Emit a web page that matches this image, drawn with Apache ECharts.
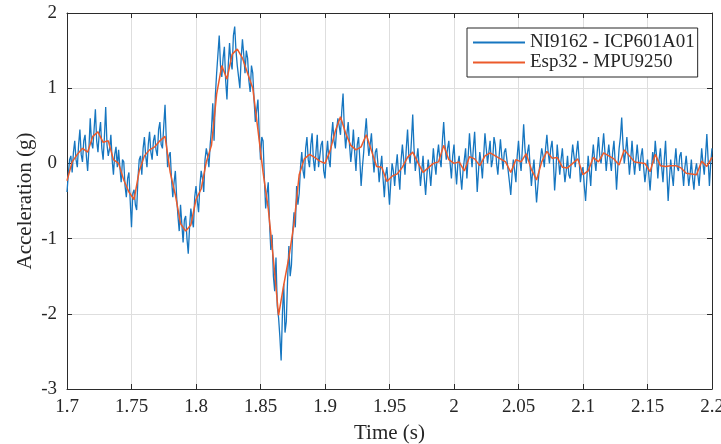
<!DOCTYPE html>
<html>
<head>
<meta charset="utf-8">
<script src="https://cdn.jsdelivr.net/npm/echarts@6/dist/echarts.min.js"></script>
<style>
html,body{margin:0;padding:0;background:#fff;}
#c{width:721px;height:444px;}
</style>
</head>
<body>
<div id="c"></div>
<script>
// ---- data ----
const seriesNames = ['NI9162 - ICP601A01', 'Esp32 - MPU9250'];
const niStart = 1.7, niStep = 0.001;      // NI9162 sample timing (s)
const espStart = 1.7, espStep = 0.004;    // Esp32 sample timing (s)

const niValues = [
  -0.38, -0.15, 0.05, 0.10, -0.12, 0.15, 0.30, 0.05, -0.05, 0.25, 0.45, 0.12, 0.02, 0.30, 0.38, 0.10, -0.10, 0.20, 0.60, 0.28,
  0.20, 0.45, 0.72, 0.30, 0.15, 0.40, 0.55, 0.20, 0.05, 0.35, 0.75, 0.25, 0.10, 0.20, 0.38, 0.05, -0.15, 0.12, 0.22, -0.05,
  0.18, -0.05, -0.25, 0.05, 0.02, -0.30, -0.45, -0.20, -0.12, -0.50, -0.85, -0.40, -0.35, -0.55, -0.62, -0.20, 0.05, 0.10, -0.15, 0.20,
  0.35, 0.10, -0.05, 0.25, 0.42, 0.15, 0.05, 0.30, 0.38, 0.18, 0.10, 0.45, 0.55, 0.25, 0.20, 0.50, 0.78, 0.30, -0.05, 0.10,
  0.15, -0.20, -0.45, -0.25, -0.10, -0.45, -0.70, -0.90, -0.55, -0.80, -1.05, -0.75, -0.70, -1.00, -1.20, -0.85, -0.60, -0.75, -0.85, -0.45,
  -0.30, -0.50, -0.65, -0.30, -0.10, -0.20, -0.38, 0.05, 0.20, 0.10, -0.05, 0.25, 0.45, 0.80, 0.30, 0.90, 1.20, 1.45, 1.70, 1.30,
  1.15, 1.40, 1.55, 1.10, 0.85, 1.30, 1.60, 1.35, 1.25, 1.70, 1.82, 1.50, 1.30, 1.15, 1.00, 1.40, 1.65, 1.45, 1.20, 1.50,
  1.40, 1.10, 0.95, 1.30, 1.20, 0.85, 0.55, 0.70, 0.85, 0.40, 0.05, 0.35, 0.30, -0.20, -0.60, -0.40, -0.25, -0.80, -1.15, -0.95,
  -1.50, -1.70, -1.25, -1.90, -2.05, -2.30, -2.62, -2.00, -1.60, -2.25, -2.10, -1.55, -1.10, -1.50, -1.35, -0.90, -0.65, -0.85, -0.30, -0.55,
  -0.40, -0.05, 0.15, -0.10, -0.20, 0.20, 0.35, 0.05, -0.05, 0.25, 0.40, 0.05, -0.10, 0.15, 0.38, -0.05, 0.10, 0.25, 0.30, -0.10,
  -0.20, 0.10, 0.30, 0.05, -0.05, 0.35, 0.55, 0.30, 0.20, 0.45, 0.60, 0.50, 0.38, 0.70, 0.93, 0.45, 0.20, 0.40, 0.55, 0.25,
  0.02, 0.20, 0.45, 0.15, -0.10, 0.25, 0.35, 0.05, -0.30, -0.05, 0.15, 0.40, 0.60, 0.30, 0.10, 0.25, 0.40, 0.10, -0.12, 0.15,
  0.20, 0.00, -0.25, -0.05, 0.10, -0.20, -0.45, -0.15, -0.05, -0.30, -0.55, -0.25, 0.00, -0.10, -0.30, -0.05, 0.12, -0.15, -0.35, 0.05,
  0.25, 0.05, -0.15, 0.20, 0.45, 0.10, 0.00, 0.30, 0.65, 0.20, -0.10, 0.05, 0.20, -0.05, -0.30, -0.10, 0.10, -0.20, -0.42, -0.15,
  0.05, -0.10, -0.30, -0.05, 0.20, 0.00, -0.15, 0.10, 0.25, 0.05, -0.05, 0.30, 0.55, 0.25, 0.05, 0.20, 0.30, 0.00, -0.20, 0.10,
  0.25, -0.05, -0.28, 0.00, 0.10, -0.15, -0.35, -0.10, 0.05, 0.20, -0.20, 0.10, 0.40, 0.15, -0.05, 0.20, 0.42, 0.05, -0.38, -0.10,
  0.15, 0.00, -0.20, 0.10, 0.40, 0.20, 0.00, 0.15, 0.30, -0.05, 0.05, 0.35, 0.25, 0.00, -0.15, 0.10, 0.32, 0.10, -0.08, 0.15,
  0.20, 0.05, -0.10, -0.25, -0.42, -0.15, 0.05, -0.10, -0.25, 0.10, 0.30, 0.05, -0.10, 0.20, 0.52, 0.20, 0.00, 0.15, 0.25, -0.05,
  -0.30, -0.10, 0.05, -0.25, -0.52, -0.30, -0.10, 0.05, 0.20, 0.10, -0.05, 0.20, 0.38, 0.15, 0.00, 0.20, 0.30, 0.05, -0.36, -0.10,
  0.25, 0.05, -0.15, 0.05, 0.20, -0.05, -0.25, -0.10, 0.10, -0.15, -0.20, 0.05, 0.25, 0.10, -0.05, 0.15, 0.30, 0.05, -0.25, -0.10,
  -0.05, -0.30, -0.50, -0.20, 0.10, -0.10, -0.30, 0.05, 0.25, 0.05, -0.10, 0.15, 0.35, 0.10, 0.00, 0.20, 0.40, 0.15, -0.10, 0.10,
  0.25, 0.05, -0.10, 0.15, 0.30, 0.00, -0.35, -0.05, 0.20, 0.35, 0.61, 0.25, 0.00, 0.15, 0.35, 0.10, -0.15, 0.05, 0.30, 0.05,
  -0.15, 0.05, 0.25, 0.05, -0.10, 0.10, 0.20, -0.05, -0.25, -0.10, 0.05, -0.15, -0.36, -0.10, 0.15, 0.00, 0.30, 0.10, -0.20, 0.05,
  0.20, -0.05, -0.25, 0.05, 0.30, -0.10, -0.50, -0.20, 0.05, -0.15, -0.30, 0.00, 0.20, -0.05, -0.10, 0.10, 0.15, -0.10, -0.30, -0.05,
  0.10, -0.10, -0.30, -0.15, 0.05, -0.20, -0.35, -0.10, 0.00, -0.15, -0.30, -0.05, 0.20, 0.00, -0.15, 0.10, 0.39, 0.05, -0.30, 0.00,
  0.20
];

const espValues = [
  -0.23, 0.02, 0.12, 0.20, 0.15, 0.36, 0.42, 0.28, 0.30, 0.05,
  0.00, -0.22, -0.38, -0.48, -0.10, 0.10, 0.18, 0.22, 0.30, 0.36,
  -0.12, -0.42, -0.80, -0.90, -0.82, -0.48, -0.34, 0.02, 0.24, 0.92,
  1.30, 1.12, 1.45, 1.52, 1.40, 1.20, 1.00, 0.45, -0.12, -0.60,
  -1.28, -2.02, -1.62, -1.25, -0.80, -0.15, 0.06, 0.12, 0.08, 0.03,
  0.00, 0.17, 0.43, 0.62, 0.40, 0.24, 0.18, 0.22, 0.38, 0.17,
  -0.04, -0.05, -0.24, -0.17, -0.14, -0.05, 0.08, 0.15, 0.01, -0.12,
  -0.06, 0.00, 0.02, 0.24, 0.05, 0.00, 0.02, -0.10, 0.09, 0.06,
  -0.03, 0.10, 0.14, 0.10, 0.06, 0.02, -0.12, 0.05, 0.02, 0.13,
  -0.08, -0.22, 0.02, 0.16, 0.07, 0.08, -0.05, -0.06, 0.00, 0.06,
  -0.15, -0.10, 0.08, 0.02, 0.14, 0.10, 0.06, -0.02, 0.18, 0.10,
  0.02, 0.01, 0.00, -0.11, 0.12, -0.03, -0.04, -0.03, -0.03, -0.06,
  -0.13, -0.14, -0.15, 0.03, -0.04, 0.08
];

const xTickValues = [1.7, 1.75, 1.8, 1.85, 1.9, 1.95, 2.0, 2.05, 2.1, 2.15, 2.2];
const xTickLabels = ['1.7', '1.75', '1.8', '1.85', '1.9', '1.95', '2', '2.05', '2.1', '2.15', '2.2'];
const yTickValues = [-3, -2, -1, 0, 1, 2];
const yTickLabels = ['-3', '-2', '-1', '0', '1', '2'];

// ---- build ----
const niData = niValues.map((v, i) => [niStart + i * niStep, v]);
const espData = espValues.map((v, i) => [espStart + i * espStep, v]);

function lookup(vals, labels, v) {
  for (let i = 0; i < vals.length; i++) if (Math.abs(vals[i] - v) < 1e-6) return labels[i];
  return '';
}

const FONT = 'Liberation Serif';
const TXT = '#262626';
const AX = '#2b2b2b';

const chart = echarts.init(document.getElementById('c'), null, {renderer: 'canvas'});
chart.setOption({
  animation: false,
  backgroundColor: '#fff',
  grid: {left: 67, right: 9, top: 13, bottom: 55, containLabel: false, outerBoundsMode: 'none'},
  legend: {
    show: true,
    orient: 'vertical',
    left: 467, top: 28,
    padding: [5, 3, 5, 6],
    itemGap: 1,
    itemWidth: 52,
    itemHeight: 2,
    icon: 'rect',
    borderColor: '#262626',
    borderWidth: 1,
    borderRadius: 0,
    backgroundColor: '#fff',
    textStyle: {fontFamily: FONT, fontSize: 19, color: TXT},
    data: seriesNames
  },
  xAxis: [{
    type: 'value', min: 1.7, max: 2.2, interval: 0.05,
    name: 'Time (s)', nameLocation: 'middle', nameGap: 34, nameMoveOverlap: false,
    nameTextStyle: {fontFamily: FONT, fontSize: 21, color: TXT},
    axisLine: {show: true, onZero: false, lineStyle: {color: AX, width: 1}},
    axisTick: {show: true, inside: true, length: 5, lineStyle: {color: AX}},
    axisLabel: {fontFamily: FONT, fontSize: 19, color: TXT, margin: 9,
      formatter: v => lookup(xTickValues, xTickLabels, v)},
    splitLine: {show: true, lineStyle: {color: '#dedede', width: 1}}
  }, {
    type: 'value', position: 'top', min: 1.7, max: 2.2, interval: 0.05,
    axisLine: {show: true, onZero: false, lineStyle: {color: AX, width: 1}},
    axisTick: {show: true, inside: true, length: 5, lineStyle: {color: AX}},
    axisLabel: {show: false}, splitLine: {show: false}
  }],
  yAxis: [{
    type: 'value', min: -3, max: 2, interval: 1,
    name: 'Acceleration (g)', nameLocation: 'middle', nameGap: 31, nameMoveOverlap: false,
    nameTextStyle: {fontFamily: FONT, fontSize: 21, color: TXT},
    axisLine: {show: true, onZero: false, lineStyle: {color: AX, width: 1}},
    axisTick: {show: true, inside: true, length: 5, lineStyle: {color: AX}},
    axisLabel: {fontFamily: FONT, fontSize: 19, color: TXT, margin: 10,
      formatter: v => lookup(yTickValues, yTickLabels, v)},
    splitLine: {show: true, lineStyle: {color: '#dedede', width: 1}}
  }, {
    type: 'value', position: 'right', min: -3, max: 2, interval: 1,
    axisLine: {show: true, onZero: false, lineStyle: {color: AX, width: 1}},
    axisTick: {show: true, inside: true, length: 5, lineStyle: {color: AX}},
    axisLabel: {show: false}, splitLine: {show: false}
  }],
  series: [{
    name: seriesNames[0], type: 'line', data: niData,
    symbol: 'none', smooth: false,
    lineStyle: {color: '#1676c0', width: 1.3},
    itemStyle: {color: '#1676c0'},
    z: 2
  }, {
    name: seriesNames[1], type: 'line', data: espData,
    symbol: 'none', smooth: false,
    lineStyle: {color: '#ec5a2b', width: 1.5},
    itemStyle: {color: '#ec5a2b'},
    z: 3
  }]
});
</script>
</body>
</html>
